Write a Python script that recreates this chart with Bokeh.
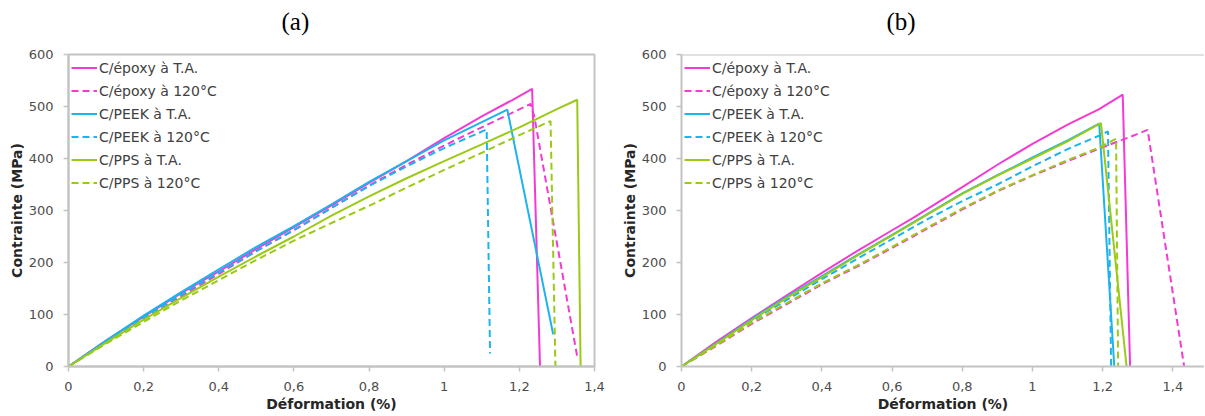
from bokeh.plotting import figure
from bokeh.models import Legend, LegendItem, FixedTicker, Range1d, Span, Title
from bokeh.layouts import row
from bokeh.embed import file_html
from bokeh.resources import INLINE

# ---------------- data ----------------
x_ticks = [0, 0.2, 0.4, 0.6, 0.8, 1.0, 1.2, 1.4]
x_tick_labels = ["0", "0,2", "0,4", "0,6", "0,8", "1", "1,2", "1,4"]
y_ticks = [0, 100, 200, 300, 400, 500, 600]

series_names = ["C/époxy à T.A.", "C/époxy à 120°C", "C/PEEK à T.A.",
                "C/PEEK à 120°C", "C/PPS à T.A.", "C/PPS à 120°C"]
series_colors = ["#f23bd3", "#f23bd3", "#1cb4ec", "#1cb4ec", "#9bca14", "#9bca14"]
series_dashes = ["solid", "7 4", "solid", "7 4", "solid", "7 4"]

# panel (a)
a_epoxy_ta_x = [0, 0.1, 0.2, 0.3, 0.4, 0.5, 0.6, 0.7, 0.8, 0.9, 1.0, 1.1, 1.18, 1.234, 1.255]
a_epoxy_ta_y = [0, 50, 96, 141, 183, 226, 268, 310, 353, 395, 439, 481, 512, 534, 0]
a_epoxy_120_x = [0, 0.1, 0.2, 0.3, 0.4, 0.5, 0.6, 0.7, 0.8, 0.9, 1.0, 1.1, 1.23, 1.24, 1.355]
a_epoxy_120_y = [0, 47, 92, 135, 178, 222, 262, 305, 348, 388, 425, 460, 505, 480, 15]
a_peek_ta_x = [0, 0.1, 0.2, 0.3, 0.4, 0.5, 0.6, 0.7, 0.8, 0.9, 1.0, 1.1, 1.168, 1.29]
a_peek_ta_y = [0, 50, 98, 143, 187, 230, 270, 312, 355, 395, 435, 470, 494, 62]
a_peek_120_x = [0, 0.1, 0.2, 0.3, 0.4, 0.5, 0.6, 0.7, 0.8, 0.9, 1.0, 1.113, 1.122]
a_peek_120_y = [0, 48, 94, 138, 181, 222, 263, 305, 347, 385, 420, 456, 25]
a_pps_ta_x = [0, 0.1, 0.2, 0.3, 0.4, 0.5, 0.6, 0.7, 0.8, 0.9, 1.0, 1.1, 1.2, 1.3, 1.354, 1.363]
a_pps_ta_y = [0, 46, 90, 132, 173, 212, 250, 290, 327, 362, 395, 427, 460, 495, 513, 0]
a_pps_120_x = [0, 0.1, 0.2, 0.3, 0.4, 0.5, 0.6, 0.7, 0.8, 0.9, 1.0, 1.1, 1.2, 1.283, 1.296]
a_pps_120_y = [0, 44, 86, 127, 166, 205, 242, 276, 309, 344, 378, 411, 445, 472, 0]

# panel (b)
b_epoxy_ta_x = [0, 0.1, 0.2, 0.3, 0.4, 0.5, 0.6, 0.66, 0.8, 0.9, 1.0, 1.1, 1.19, 1.257, 1.278]
b_epoxy_ta_y = [0, 48, 93, 137, 180, 222, 262, 286, 345, 388, 428, 465, 495, 523, 0]
b_epoxy_120_x = [0, 0.1, 0.2, 0.3, 0.4, 0.5, 0.6, 0.7, 0.8, 0.9, 1.0, 1.1, 1.19, 1.276, 1.328, 1.432]
b_epoxy_120_y = [0, 40, 82, 120, 158, 192, 228, 265, 302, 337, 367, 395, 419, 441, 455, 0]
b_peek_ta_x = [0, 0.1, 0.22, 0.3, 0.4, 0.5, 0.6, 0.7, 0.8, 0.9, 1.0, 1.1, 1.19, 1.233]
b_peek_ta_y = [0, 45, 100, 134, 174, 214, 253, 293, 333, 368, 402, 435, 467, 0]
b_peek_120_x = [0, 0.1, 0.2, 0.3, 0.4, 0.5, 0.6, 0.7, 0.8, 0.9, 1.0, 1.1, 1.19, 1.215, 1.224]
b_peek_120_y = [0, 43, 88, 128, 168, 207, 245, 283, 318, 350, 385, 418, 444, 452, 0]
b_pps_ta_x = [0, 0.1, 0.22, 0.3, 0.4, 0.5, 0.6, 0.7, 0.8, 0.9, 1.0, 1.1, 1.195, 1.268]
b_pps_ta_y = [0, 44, 98, 132, 172, 213, 252, 292, 332, 367, 400, 433, 468, 0]
b_pps_120_x = [0, 0.1, 0.2, 0.3, 0.4, 0.5, 0.6, 0.7, 0.8, 0.9, 1.0, 1.1, 1.19, 1.238, 1.244]
b_pps_120_y = [0, 41, 84, 122, 160, 194, 230, 267, 304, 338, 368, 397, 421, 438, 0]

panel_a = [(a_epoxy_ta_x, a_epoxy_ta_y), (a_epoxy_120_x, a_epoxy_120_y),
           (a_peek_ta_x, a_peek_ta_y), (a_peek_120_x, a_peek_120_y),
           (a_pps_ta_x, a_pps_ta_y), (a_pps_120_x, a_pps_120_y)]
panel_b = [(b_epoxy_ta_x, b_epoxy_ta_y), (b_epoxy_120_x, b_epoxy_120_y),
           (b_peek_ta_x, b_peek_ta_y), (b_peek_120_x, b_peek_120_y),
           (b_pps_ta_x, b_pps_ta_y), (b_pps_120_x, b_pps_120_y)]

GRAY = "#c3c3c3"
TICK_FONT = "DejaVu Sans"


def make_panel(title, series, x_end, frame_w, border_l, border_r, title_offset, outline):
    p = figure(frame_width=frame_w, frame_height=312,
               x_range=Range1d(0, x_end), y_range=Range1d(0, 600),
               min_border_left=border_l, min_border_right=border_r,
               min_border_top=54, min_border_bottom=46,
               output_backend="svg", toolbar_location=None, title=title)
    p.title.text_font = "Liberation Serif"
    p.title.text_font_size = "25px"
    p.title.text_font_style = "normal"
    p.title.text_color = "black"
    p.title.align = "left"
    p.title.vertical_align = "top"
    p.title.offset = title_offset
    p.title.standoff = 14
    # thin spacer between the title and the frame
    p.add_layout(Title(text=" ", text_font_size="1px", standoff=8), "above")
    p.grid.visible = False
    p.background_fill_color = "white"
    p.border_fill_color = "white"
    if outline:
        p.outline_line_color = GRAY
        p.outline_line_width = 2
    else:
        p.outline_line_color = None
        p.add_layout(Span(location=600, dimension="width", line_color=GRAY, line_width=2))

    for ax in (p.xaxis[0], p.yaxis[0]):
        ax.axis_line_color = GRAY
        ax.axis_line_width = 2
        ax.major_tick_line_color = GRAY
        ax.major_tick_line_width = 1.5
        ax.major_tick_out = 5
        ax.major_tick_in = 0
        ax.minor_tick_line_color = None
        ax.major_label_text_font = TICK_FONT
        ax.major_label_text_font_size = "13px"
        ax.major_label_text_color = "#4d4d4d"
        ax.major_label_standoff = 10
        ax.axis_label_text_font = TICK_FONT
        ax.axis_label_text_font_size = "14px"
        ax.axis_label_text_font_style = "bold"
        ax.axis_label_text_color = "#262626"
        ax.axis_label_standoff = 1

    p.xaxis[0].ticker = FixedTicker(ticks=x_ticks)
    p.xaxis[0].major_label_overrides = {float(t): lab for t, lab in zip(x_ticks, x_tick_labels)}
    p.yaxis[0].ticker = FixedTicker(ticks=y_ticks)
    p.xaxis[0].axis_label = "Déformation (%)"
    p.yaxis[0].axis_label = "Contrainte (MPa)"
    p.xaxis[0].axis_label_standoff = 2

    items = []
    for (xs, ys), name, col, dash in zip(series, series_names, series_colors, series_dashes):
        r = p.line(xs, ys, line_color=col, line_width=2, line_dash=dash)
        items.append(LegendItem(label=name, renderers=[r]))

    leg = Legend(items=items, location="top_left")
    leg.background_fill_alpha = 0
    leg.border_line_color = None
    leg.margin = 3
    leg.padding = 3
    leg.spacing = 2
    leg.glyph_width = 26
    leg.glyph_height = 21
    leg.label_height = 21
    leg.label_standoff = 2
    leg.label_text_font = TICK_FONT
    leg.label_text_font_size = "14px"
    leg.label_text_color = "#404040"
    p.add_layout(leg)
    return p


pa = make_panel("(a)", panel_a, 1.4, 526, 68, 16, 213, True)
pb = make_panel("(b)", panel_b, 1.49, 523, 71, 0, 205, False)

layout = row(pa, pb)
open("out.html", "w").write(file_html(layout, INLINE))
